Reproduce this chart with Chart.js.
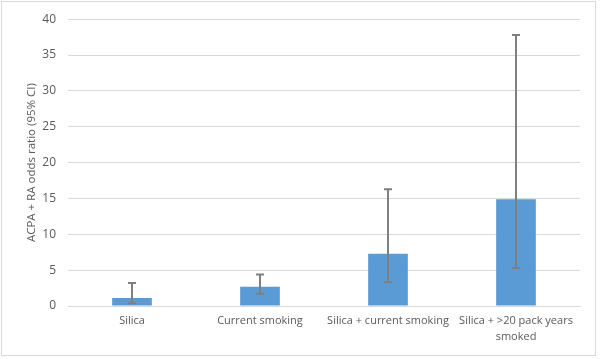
<!DOCTYPE html>
<html>
<head>
<meta charset="utf-8">
<script src="https://cdn.jsdelivr.net/npm/chart.js@4/dist/chart.umd.min.js"></script>
<style>
  html, body { margin: 0; padding: 0; background: #fff; }
  #wrap { position: relative; width: 600px; height: 359px; }
  #frame { position: absolute; left: 1px; top: 1px; width: 595px; height: 355px; border: 1px solid #d9d9d9; box-sizing: border-box; }
  canvas { position: absolute; left: 0; top: 0; }
</style>
</head>
<body>
<div id="wrap">
  <div id="frame"></div>
  <canvas id="chart" width="600" height="359"></canvas>
</div>
<script>
// Data
const categories = ['Silica', 'Current smoking', 'Silica + current smoking', ['Silica + >20 pack years', 'smoked']];
const oddsRatio = [1.1, 2.7, 7.3, 14.9];
const ciLow = [0.4, 1.7, 3.3, 5.3];
const ciHigh = [3.2, 4.4, 16.3, 37.8];
const yTicks = [0, 5, 10, 15, 20, 25, 30, 35, 40];

const textColor = '#595959';
const fontFamily = 'Open Sans, Liberation Sans, sans-serif';

// Draw the 95% CI whiskers through the chart's own scales
const errorBars = {
    id: 'errorBars',
    afterDatasetsDraw(chart) {
        const { ctx, scales } = chart;
        const meta = chart.getDatasetMeta(0);
        ctx.save();
        ctx.strokeStyle = '#7f7f7f';
        ctx.lineWidth = 2;
        meta.data.forEach((bar, i) => {
            const x = bar.x;
            const yHi = scales.y.getPixelForValue(ciHigh[i]);
            const yLo = scales.y.getPixelForValue(ciLow[i]);
            ctx.beginPath();
            ctx.moveTo(x, yHi);
            ctx.lineTo(x, yLo);
            ctx.moveTo(x - 4, yHi);
            ctx.lineTo(x + 4, yHi);
            ctx.moveTo(x - 4, yLo);
            ctx.lineTo(x + 4, yLo);
            ctx.stroke();
        });
        ctx.restore();
    }
};

new Chart(document.getElementById('chart'), {
    type: 'bar',
    data: {
        labels: categories,
        datasets: [{
            data: oddsRatio,
            backgroundColor: '#5b9bd5',
            borderWidth: 0,
            categoryPercentage: 1,
            barPercentage: 0.31
        }]
    },
    options: {
        responsive: false,
        animation: false,
        layout: { padding: { left: 25, right: 20, top: 12, bottom: 0 } },
        plugins: {
            legend: { display: false },
            tooltip: { enabled: false }
        },
        scales: {
            x: {
                grid: { display: false, drawTicks: false },
                border: { display: true, color: '#d9d9d9', width: 1 },
                ticks: {
                    color: textColor,
                    font: { family: fontFamily, size: 11, lineHeight: 1.45 },
                    padding: 7,
                    autoSkip: false,
                    maxRotation: 0
                },
                afterFit(scale) { scale.height = 53; }
            },
            y: {
                min: 0,
                max: 40,
                afterBuildTicks(scale) { scale.ticks = yTicks.map(v => ({ value: v })); },
                grid: { color: '#d9d9d9', drawTicks: false },
                border: { display: false },
                ticks: {
                    color: textColor,
                    font: { family: fontFamily, size: 12 },
                    padding: 12
                },
                title: {
                    display: true,
                    text: 'ACPA + RA odds ratio (95% CI)',
                    color: textColor,
                    font: { family: fontFamily, size: 11.5 },
                    padding: 0
                },
                afterFit(scale) { scale.width = 43; }
            }
        }
    },
    plugins: [errorBars]
});
</script>
</body>
</html>
